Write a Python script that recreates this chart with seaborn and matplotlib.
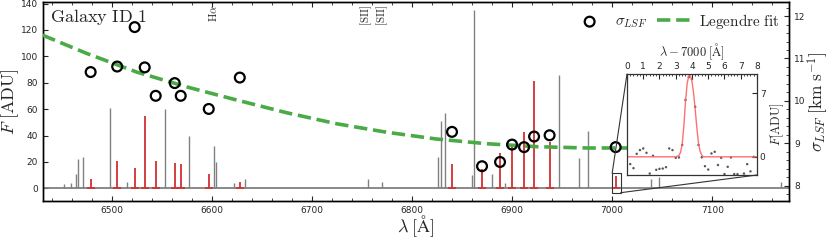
import numpy as np
import pandas as pd
import matplotlib
matplotlib.use("Agg")
import matplotlib.pyplot as plt
from matplotlib.patches import Rectangle, ConnectionPatch
from matplotlib.ticker import MultipleLocator
import seaborn as sns

# sky lines used for the LSF fit (red) and their measured widths
red_wave = [6479, 6505.5, 6523, 6533, 6544, 6563, 6569, 6597, 6628,
            6840, 6870, 6888, 6900, 6912, 6922, 6937.5, 7003.5]
red_flux = [7, 20.7, 15.6, 55, 20.7, 19, 18.5, 10.6, 5,
            18.5, 15, 26.5, 33, 43, 81, 35, 9]
sigma_lsf = [10.68, 10.81, 11.74, 10.79, 10.12, 10.42, 10.12, 9.81, 10.55,
             9.27, 8.46, 8.56, 8.97, 8.91, 9.16, 9.19, 8.91]

# other lines in the spectrum (gray)
gray_wave = [6452.7, 6459, 6464.5, 6466.8, 6471.7, 6498.3, 6515, 6553, 6577.5,
             6602.5, 6604, 6622, 6633, 6756, 6770, 6826, 6829, 6833, 6860,
             6862, 6880, 6893, 6947, 6967, 6976, 7039, 7047, 7169]
gray_flux = [3, 4, 10.8, 22, 24, 61, 5, 60, 40,
             32, 20, 4, 7, 6.8, 5, 24, 51, 57, 10,
             135, 11, 4, 85.8, 22.7, 43.4, 6.8, 8.8, 5]

# Legendre fit of sigma_LSF
fit_wave = [6431, 6475, 6525, 6575, 6625, 6675, 6725, 6775, 6825, 6875,
            6925, 6975, 7025, 7050]
fit_sigma = [11.55, 11.12, 10.68, 10.33, 10.02, 9.72, 9.46, 9.26, 9.10, 8.99,
             8.92, 8.89, 8.89, 8.90]

# zoom on the line at 7000 A
zoom_x = [0.2, 0.4, 0.6, 0.8, 1.0, 1.2, 1.4, 1.6, 1.8, 2.0, 2.2, 2.4, 2.6, 2.8,
          3.0, 3.2, 3.4, 3.6, 3.8, 4.0, 4.2, 4.4, 4.6, 4.8, 5.0, 5.2, 5.4, 5.6,
          5.8, 6.0, 6.2, 6.4, 6.6, 6.8, 7.2, 7.4, 7.6, 7.8]
zoom_y = [-0.8, -1.25, 0.33, 0.74, 0.92, 0.44, -1.84, 0.11, -1.43, -1.32, -1.29, -1.14, 0.92, 0.74,
          -0.11, -0.07, 1.3, 6.25, 8.75, 8.55, 5.5, 1.3, -0.05, -1.03, -1.4, 0.37, 0.55, -0.9,
          -0.11, -1.9, -1.1, -0.07, -1.9, -1.9, -1.84, -0.81, -1.6, 0.0]
gfit_x = [0, 3.0, 3.2, 3.3, 3.4, 3.5, 3.6, 3.7, 3.8, 3.9, 4.0, 4.1, 4.2, 4.3, 4.4, 4.5, 4.6, 4.7, 8]
gfit_y = [0, 0, 0.15, 0.5, 1.4, 3.4, 6.0, 8.0, 8.9, 8.9, 8.3, 7.0, 5.2, 3.2, 1.5, 0.6, 0.2, 0.0, 0]

sky_labels = [r'$\mathrm{H}\alpha$', r'$[\mathrm{SII}]$', r'$[\mathrm{SII}]$']
sky_label_wave = [6601.5, 6754, 6770]

sns.set_style('ticks')
plt.rcParams['mathtext.fontset'] = 'cm'
plt.rcParams['font.family'] = ['DejaVu Sans']
plt.rcParams['xtick.direction'] = 'in'
plt.rcParams['ytick.direction'] = 'in'
plt.rcParams['axes.edgecolor'] = 'black'
plt.rcParams['axes.linewidth'] = 1.0

GRAY = '#808080'
RED = '#d03030'
GREEN = '#4aab46'

fig = plt.figure(figsize=(8.3, 2.4), dpi=100)
ax = fig.add_axes([0.0518, 0.1625, 0.8992, 0.8271])

# spectrum
ax.axhline(0, color=GRAY, lw=1.3, zorder=1)
ax.vlines(gray_wave, 0, gray_flux, color=GRAY, lw=1.0, zorder=2)
ax.hlines(np.zeros(len(red_wave)), np.array(red_wave) - 4, np.array(red_wave) + 4,
          color=RED, lw=1.2, zorder=3)
ax.vlines(red_wave, 0, red_flux, color=RED, lw=1.3, zorder=3)

ax.set_xlim(6431.4, 7177)
ax.set_ylim(-9.6, 140.8)
ax.xaxis.set_major_locator(MultipleLocator(100))
ax.xaxis.set_minor_locator(MultipleLocator(20))
ax.yaxis.set_major_locator(MultipleLocator(20))
ax.tick_params(axis='both', which='both', labelsize=6.5, top=True)
ax.tick_params(axis='y', which='both', right=False)
ax.set_xlabel(r'$\lambda\;[\mathrm{\AA}]$', fontsize=13, labelpad=-1)
ax.set_ylabel(r'$F\;[\mathrm{ADU}]$', fontsize=13, labelpad=0)

ax.text(0.01, 0.975, r'$\mathrm{Galaxy\ ID\ 1}$', transform=ax.transAxes,
        fontsize=13, va='top', ha='left')
for lab, w in zip(sky_labels, sky_label_wave):
    ax.text(w, 0.99, lab, transform=ax.get_xaxis_transform(), rotation=90,
            fontsize=8, va='top', ha='center')

# rectangle marking the zoom region
rect_x0, rect_x1, rect_y0, rect_y1 = 7000, 7008.5, -3.3, 11.4
ax.add_patch(Rectangle((rect_x0, rect_y0), rect_x1 - rect_x0, rect_y1 - rect_y0,
                       fill=False, ec='#333333', lw=0.8, zorder=4))

# sigma_LSF on twin axis
ax2 = ax.twinx()
sns.lineplot(x=fit_wave, y=fit_sigma, ax=ax2, color=GREEN, lw=2.6,
             linestyle='--', label='Legendre fit', zorder=3)
sns.scatterplot(x=red_wave, y=sigma_lsf, ax=ax2, marker='o', s=50,
                facecolor='none', edgecolor='black', linewidth=1.6,
                label=r'$\sigma_{LSF}$', zorder=4)
ax2.set_ylim(7.64, 12.32)
ax2.yaxis.set_minor_locator(MultipleLocator(0.2))
ax2.tick_params(axis='y', which='both', labelsize=6.5)
ax2.set_ylabel(r'$\sigma_{LSF}\;[\mathrm{km\;s^{-1}}]$', fontsize=12.5, labelpad=0)

h, l = ax2.get_legend_handles_labels()
ax2.legend([h[1], h[0]], [l[1], r'$\mathrm{Legendre\ fit}$'], loc='upper right',
           ncol=2, frameon=False, fontsize=11, handlelength=2.3,
           columnspacing=0.6, borderaxespad=0.2, handletextpad=0.5)

# inset
axins = fig.add_axes([0.7554, 0.2708, 0.1566, 0.4208])
axins.set_facecolor('white')
sns.lineplot(x=gfit_x, y=gfit_y, ax=axins, color='#ff6060', lw=1.0, alpha=0.9)
sns.scatterplot(x=zoom_x, y=zoom_y, ax=axins, color='#555555', s=3,
                edgecolor='none')
axins.set_xlim(0, 8)
axins.set_ylim(-2.0, 9.1)
axins.xaxis.set_major_locator(MultipleLocator(1))
axins.xaxis.set_minor_locator(MultipleLocator(0.2))
axins.set_yticks([0, 7])
axins.xaxis.tick_top()
axins.xaxis.set_label_position('top')
axins.yaxis.tick_right()
axins.yaxis.set_label_position('right')
axins.tick_params(axis='both', which='both', labelsize=6.5, pad=2)
axins.tick_params(axis='x', which='minor', length=1.5)
axins.set_xlabel(r'$\lambda - 7000\;[\mathrm{\AA}]$', fontsize=9, labelpad=4)
axins.set_ylabel(r'$F[\mathrm{ADU}]$', fontsize=9, labelpad=2)
for sp in axins.spines.values():
    sp.set_color('#333333')
    sp.set_linewidth(0.9)

for xa, xb in [((0, 1), (rect_x0, rect_y1)), ((1, 0), (rect_x1, rect_y0))]:
    con = ConnectionPatch(xyA=xa, coordsA=axins.transAxes, xyB=xb,
                          coordsB=ax.transData, color='#333333', lw=0.8)
    fig.add_artist(con)

fig.savefig('out.png', dpi=100)
